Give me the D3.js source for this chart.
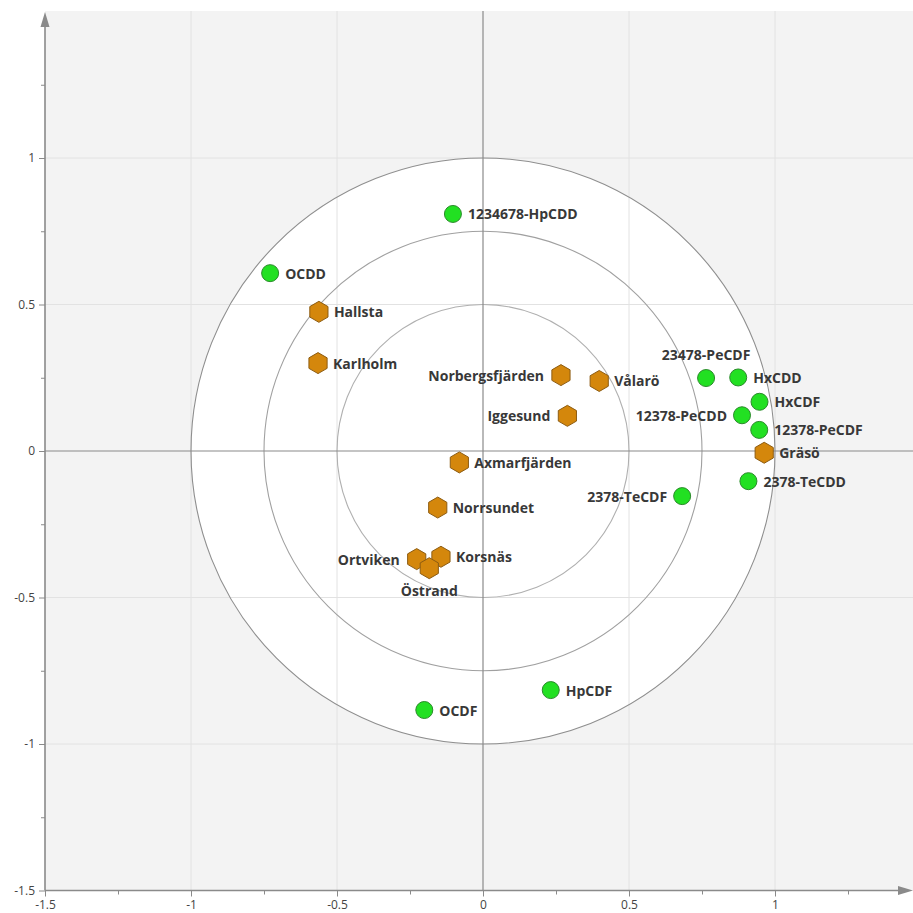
<!DOCTYPE html>
<html>
<head>
<meta charset="utf-8">
<script src="https://cdn.jsdelivr.net/npm/d3@7"></script>
<style>
  html, body { margin: 0; padding: 0; background: #ffffff; }
  svg { display: block; }
  .tick text { font-family: "Open Sans", "Noto Sans", sans-serif; font-size: 12px; fill: #444; }
  .lbl { font-family: "Open Sans", "Noto Sans", sans-serif; font-size: 14px; font-weight: 700; fill: #383838; }
</style>
</head>
<body>
<svg id="chart" width="913" height="913"></svg>
<script>
// Variables (loadings) — drawn as green circles
const varNames = ["1234678-HpCDD", "OCDD", "23478-PeCDF", "HxCDD", "HxCDF", "12378-PeCDD",
                  "12378-PeCDF", "2378-TeCDD", "2378-TeCDF", "HpCDF", "OCDF"];
const varX = [-0.103, -0.729, 0.764, 0.874, 0.947, 0.887, 0.946, 0.909, 0.682, 0.232, -0.201];
const varY = [0.809, 0.607, 0.249, 0.251, 0.168, 0.122, 0.072, -0.103, -0.154, -0.816, -0.884];
const varLabelPos = ["right", "right", "above", "right", "right", "left", "right", "right", "left", "right", "right"];

// Sampling sites (scores) — drawn as orange hexagons
const siteNames = ["Hallsta", "Karlholm", "Norbergsfjärden", "Vålarö", "Iggesund", "Gräsö",
                   "Axmarfjärden", "Norrsundet", "Korsnäs", "Ortviken", "Östrand"];
const siteX = [-0.562, -0.565, 0.267, 0.398, 0.289, 0.963, -0.081, -0.155, -0.144, -0.227, -0.184];
const siteY = [0.475, 0.300, 0.259, 0.239, 0.120, -0.006, -0.039, -0.193, -0.361, -0.369, -0.400];
const siteLabelPos = ["right", "right", "left", "right", "left", "right", "right", "right", "right", "left", "below"];

// Axis ticks and correlation circles
const majorTicks = [-1.5, -1, -0.5, 0, 0.5, 1];
const minorTicks = [-1.25, -0.75, -0.25, 0.25, 0.75, 1.25];
const gridValues = [-1, -0.5, 0.5, 1];
const ringRadii = [1, 0.75, 0.5];

const svg = d3.select("#chart");
const pLeft = 45, pRight = 913, pTop = 11, pBottom = 890.5;

const x = d3.scaleLinear().domain([-1.5, 1.5]).range([45, 921]);
const y = d3.scaleLinear().domain([-1.5, 1.5]).range([890.5, 11.5]);

// plot background
svg.append("rect").attr("x", pLeft).attr("y", pTop)
  .attr("width", pRight - pLeft).attr("height", pBottom - pTop).attr("fill", "#f3f3f3");

// white disc inside the unit circle
svg.append("ellipse")
  .attr("cx", x(0)).attr("cy", y(0))
  .attr("rx", x(1) - x(0)).attr("ry", y(0) - y(1))
  .attr("fill", "#ffffff");

// grid lines
const grid = svg.append("g");
grid.selectAll("line.gx").data(gridValues).join("line")
  .attr("class", "gx")
  .attr("x1", d => x(d)).attr("x2", d => x(d))
  .attr("y1", pTop).attr("y2", pBottom)
  .attr("stroke", "#e2e2e2").attr("stroke-width", 1);
grid.selectAll("line.gy").data(gridValues).join("line")
  .attr("class", "gy")
  .attr("x1", pLeft).attr("x2", pRight)
  .attr("y1", d => y(d)).attr("y2", d => y(d))
  .attr("stroke", "#e2e2e2").attr("stroke-width", 1);

// rings
const ringColors = ["#8e8e8e", "#a0a0a0", "#b0b0b0"];
svg.selectAll("ellipse.ring").data(ringRadii).join("ellipse")
  .attr("class", "ring")
  .attr("cx", x(0)).attr("cy", y(0))
  .attr("rx", d => x(d) - x(0)).attr("ry", d => y(0) - y(d))
  .attr("fill", "none")
  .attr("stroke", (d, i) => ringColors[i]).attr("stroke-width", 1.1);

// zero lines
svg.append("line").attr("x1", x(0)).attr("x2", x(0)).attr("y1", pTop).attr("y2", pBottom)
  .attr("stroke", "#8a8a8a").attr("stroke-width", 1.2);
svg.append("line").attr("x1", pLeft).attr("x2", pRight).attr("y1", y(0)).attr("y2", y(0))
  .attr("stroke", "#8a8a8a").attr("stroke-width", 1.2);

// axes
const fmt = d => String(d);
const yAxis = svg.append("g").attr("transform", `translate(${pLeft},0)`)
  .call(d3.axisLeft(y).tickValues(majorTicks).tickFormat(fmt).tickSize(6).tickPadding(4));
const xAxis = svg.append("g").attr("transform", `translate(0,${pBottom})`)
  .call(d3.axisBottom(x).tickValues(majorTicks).tickFormat(fmt).tickSize(6).tickPadding(4));
[yAxis, xAxis].forEach(g => {
  g.select(".domain").remove();
  g.selectAll(".tick line").attr("stroke", "#8a8a8a");
});
// minor ticks
svg.append("g").attr("transform", `translate(${pLeft},0)`)
  .call(d3.axisLeft(y).tickValues(minorTicks).tickFormat("").tickSize(4))
  .call(g => { g.select(".domain").remove(); g.selectAll(".tick line").attr("stroke", "#8a8a8a"); });
svg.append("g").attr("transform", `translate(0,${pBottom})`)
  .call(d3.axisBottom(x).tickValues(minorTicks).tickFormat("").tickSize(4))
  .call(g => { g.select(".domain").remove(); g.selectAll(".tick line").attr("stroke", "#8a8a8a"); });

// axis lines with arrowheads
svg.append("line").attr("x1", pLeft).attr("x2", pLeft).attr("y1", pBottom).attr("y2", 24)
  .attr("stroke", "#8a8a8a").attr("stroke-width", 1.6);
svg.append("path").attr("d", `M${pLeft},12 L${pLeft - 4.5},27 L${pLeft + 4.5},27 Z`).attr("fill", "#8a8a8a");
svg.append("line").attr("x1", pLeft).attr("x2", 902).attr("y1", pBottom).attr("y2", pBottom)
  .attr("stroke", "#8a8a8a").attr("stroke-width", 1.6);
svg.append("path").attr("d", `M913,${pBottom} L898,${pBottom - 4.5} L898,${pBottom + 4.5} Z`).attr("fill", "#8a8a8a");

// label placement helper
function placeLabel(sel, pos, off) {
  sel.attr("text-anchor", pos === "left" ? "end" : (pos === "right" ? "start" : "middle"))
     .attr("dx", pos === "left" ? -off : (pos === "right" ? off : 0))
     .attr("dy", pos === "above" ? -24 : (pos === "below" ? 22 : 0))
     .attr("dominant-baseline", "central");
}

// hexagon path (pointy top)
function hexPath(r) {
  const pts = d3.range(6).map(i => {
    const a = (-90 + 60 * i) * Math.PI / 180;
    return [r * Math.cos(a), r * Math.sin(a)];
  });
  return "M" + pts.map(p => p.join(",")).join("L") + "Z";
}

// sites
const sites = siteNames.map((n, i) => ({ name: n, x: siteX[i], y: siteY[i], pos: siteLabelPos[i] }));
const sg = svg.append("g").selectAll("g").data(sites).join("g")
  .attr("transform", d => `translate(${x(d.x)},${y(d.y)})`);
sg.append("path").attr("d", hexPath(10.5))
  .attr("fill", "#d4870c").attr("stroke", "#8d5c12").attr("stroke-width", 1);

// variables
const vars = varNames.map((n, i) => ({ name: n, x: varX[i], y: varY[i], pos: varLabelPos[i] }));
const vg = svg.append("g").selectAll("g").data(vars).join("g")
  .attr("transform", d => `translate(${x(d.x)},${y(d.y)})`);
vg.append("circle").attr("r", 8.5)
  .attr("fill", "#22e022").attr("stroke", "#2b8a2b").attr("stroke-width", 1);

// labels on top
sg.append("text").attr("class", "lbl").text(d => d.name)
  .each(function (d) { placeLabel(d3.select(this), d.pos, d.pos === "left" ? 17 : 15); });
vg.append("text").attr("class", "lbl").text(d => d.name)
  .each(function (d) { placeLabel(d3.select(this), d.pos, 15); });
</script>
</body>
</html>
